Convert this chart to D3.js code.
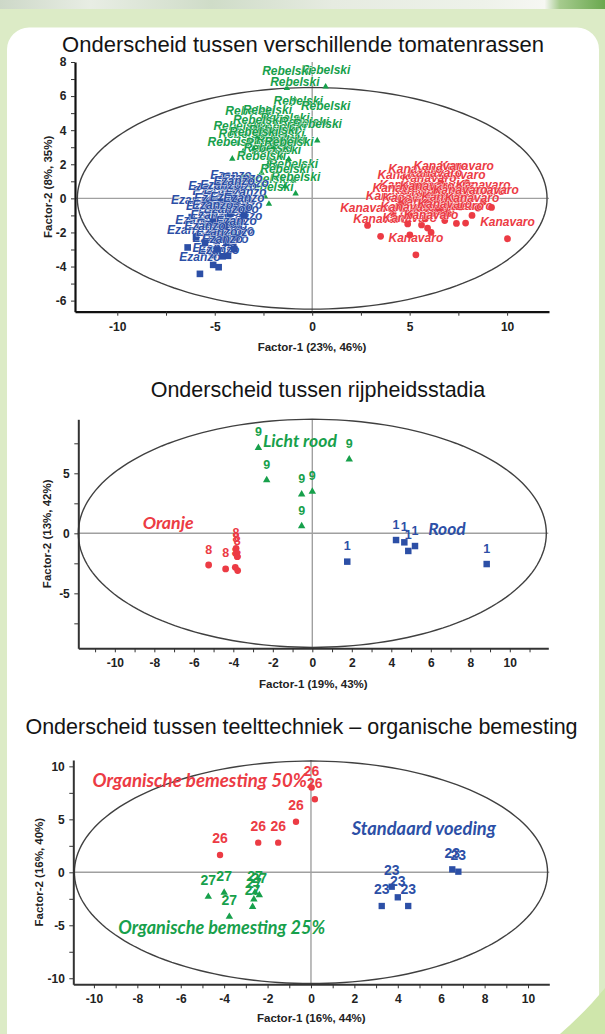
<!DOCTYPE html>
<html><head><meta charset="utf-8">
<script src="https://cdn.jsdelivr.net/npm/d3@7"></script>
<style>body{margin:0;background:#dcebc6;}svg{display:block}</style>
</head><body><svg id="c" width="605" height="1034"></svg>
<script>
// ---------------- DATA ----------------
const titles = [
  "Onderscheid tussen verschillende tomatenrassen",
  "Onderscheid tussen rijpheidsstadia",
  "Onderscheid tussen teelttechniek \u2013 organische bemesting"
];
const xAxisTitles = ["Factor-1 (23%, 46%)", "Factor-1 (19%, 43%)", "Factor-1 (16%, 44%)"];
const yAxisTitles = ["Factor-2 (8%, 35%)", "Factor-2 (13%, 42%)", "Factor-2 (16%, 40%)"];

const chart1XTicks = [-10, -7.5, -5, -2.5, 0, 2.5, 5, 7.5, 10];
const chart1XTickLabels = [-10, -5, 0, 5, 10];
const chart1YTicks = [-6, -5, -4, -3, -2, -1, 0, 1, 2, 3, 4, 5, 6, 7, 8];
const chart1YTickLabels = [-6, -4, -2, 0, 2, 4, 6, 8];

const chart2XTicks = [-11, -10, -9, -8, -7, -6, -5, -4, -3, -2, -1, 0, 1, 2, 3, 4, 5, 6, 7, 8, 9, 10, 11];
const chart2XTickLabels = [-10, -8, -6, -4, -2, 0, 2, 4, 6, 8, 10];
const chart2YTicks = [-7.5, -5, -2.5, 0, 2.5, 5, 7.5];
const chart2YTickLabels = [-5, 0, 5];

const chart3XTicks = [-10, -9, -8, -7, -6, -5, -4, -3, -2, -1, 0, 1, 2, 3, 4, 5, 6, 7, 8, 9, 10];
const chart3XTickLabels = [-10, -8, -6, -4, -2, 0, 2, 4, 6, 8, 10];
const chart3YTicks = [-10, -7.5, -5, -2.5, 0, 2.5, 5, 7.5, 10];
const chart3YTickLabels = [-10, -5, 0, 5, 10];

// chart 1 : varieties
const chart1Categories = ["Rebelski", "Ezanzo", "Kanavaro"];
const rebelskiPoints = [
  [0.69, 6.55], [-1.3, 6.47], [-0.89, 5.8], [-0.72, 4.7], [0.69, 4.41],
  [-3.19, 4.1], [-2.3, 4.2], [-1.4, 3.7], [-0.4, 3.5], [0.26, 3.39],
  [-3.8, 3.24], [-1.57, 3.2], [-3.54, 2.75], [-1.66, 2.75],
  [-4.1, 2.32], [-2.17, 2.26], [-1.6, 2.45], [-1.83, 1.86], [-2.26, 1.98],
  [-0.97, 1.04], [-2.43, 0.12], [-0.85, 0.28], [-2.22, -0.33],
  [-2.8, 3.6], [-2.0, 3.0], [-3.0, 2.9], [-1.2, 2.3], [-2.6, 1.5], [-1.4, 0.7]
];
const ezanzoPoints = [
  [-4.17, 0.39], [-3.28, -0.08], [-6.18, -1.1], [-5.08, -0.59], [-5.42, -1.47],
  [-3.62, -2.06], [-3.62, -1.37], [-6.39, -2.88], [-4.05, -2.84], [-5.08, -3.33],
  [-5.08, -3.9], [-5.76, -4.43], [-4.8, -4.04], [-4.32, -3.37], [-4.0, -2.98],
  [-5.96, -2.27], [-5.0, -1.0], [-4.5, -0.5], [-4.8, -1.8], [-4.3, -1.2],
  [-3.9, -0.3], [-4.6, -2.3], [-5.2, -2.0], [-3.8, -1.6], [-4.4, -2.6],
  [-5.3, -0.3], [-3.6, 0.2], [-4.9, -3.0], [-4.2, -0.9], [-3.4, -0.6],
  [-4.7, -0.2], [-4.1, -1.5], [-4.9, -2.5], [-3.9, -2.3], [-4.5, -1.6],
  [-5.1, -1.4], [-4.0, 0.0], [-3.5, -1.0], [-4.6, -3.4], [-5.5, -2.6]
];
const kanavaroPoints = [
  [5.32, -3.31], [3.51, -2.23], [5.92, -1.74], [7.87, -1.45], [10.02, -2.37],
  [2.84, -1.59], [6.72, -0.96], [8.51, -0.57], [7.92, 0.92], [4.75, 0.39],
  [7.49, 0.39], [4.84, -0.2], [6.89, -0.2], [8.77, -0.2], [9.2, -0.53],
  [4.15, -0.88], [6.2, -0.88], [7.4, -1.47], [5.61, -1.56], [5.01, -2.15],
  [5.5, -0.5], [6.0, 0.2], [5.0, -1.0], [6.5, -0.6], [5.8, -1.2],
  [4.5, -0.4], [7.0, -0.9], [6.3, 0.5], [5.3, 0.7], [6.6, 0.9],
  [5.9, -0.3], [7.6, -0.5], [4.9, -1.5], [6.8, -1.3], [8.2, -1.0], [6.1, -2.0]
];

// chart 2 : ripeness stages
const chart2Categories = ["Licht rood", "Oranje", "Rood"];
const chart2PointLabels = ["9", "8", "1"];
const lichtRoodPoints = [[-2.73, 7.13], [-2.31, 4.44], [-0.54, 3.25], [-0.54, 0.6], [0.0, 3.47], [1.87, 6.17]];
const oranjePoints = [[-5.25, -2.64], [-4.39, -2.97], [-3.86, -1.25], [-3.86, -1.7], [-3.8, -1.95], [-3.9, -2.83], [-3.78, -3.1]];
const roodPoints = [[1.77, -2.36], [4.24, -0.56], [4.66, -0.75], [4.86, -1.47], [5.2, -1.06], [8.83, -2.56]];
const chart2Annotations = [["Licht rood", -2.5, 7.7], ["Oranje", -8.59, 0.88], ["Rood", 5.87, 0.33]];

// chart 3 : cultivation technique
const chart3Categories = ["Organische bemesting 50%", "Organische bemesting 25%", "Standaard voeding"];
const chart3PointLabels = ["26", "27", "23"];
const bemesting50Points = [[-4.19, 1.63], [-2.43, 2.8], [-1.51, 2.8], [-0.69, 4.77], [0.03, 8.0], [0.18, 6.9]];
const bemesting25Points = [[-4.73, -2.3], [-4.0, -1.92], [-3.76, -4.19], [-2.69, -3.25], [-2.63, -2.55], [-2.38, -2.14], [-2.58, -1.9]];
const standaardPoints = [[6.51, 0.28], [6.79, 0.06], [3.72, -1.36], [4.0, -2.36], [3.26, -3.18], [4.48, -3.18]];
const chart3Annotations = [["Organische bemesting 50%", -10.06, 8.7], ["Organische bemesting 25%", -8.88, -5.23], ["Standaard voeding", 1.88, 4.08]];

// ---------------- STYLE / LAYOUT ----------------
const RED = "#ec3b44", GREEN = "#17a04b", BLUE = "#2c4fa6";
const FONT = "'Liberation Sans', Arial, sans-serif";
const ANNFONT = "Lato, 'Open Sans', sans-serif";

const svg = d3.select("#c");
const defs = svg.append("defs");
const tg = defs.append("linearGradient").attr("id", "topg");
[[0, "#cdd8c8"], [0.15, "#e8ede4"], [0.35, "#cfdcc8"], [0.55, "#e6ebe1"], [0.8, "#eef2ea"], [0.9, "#f6f7f3"], [0.925, "#a6cb8e"], [1, "#6aa84f"]]
  .forEach(([o, c]) => tg.append("stop").attr("offset", o).attr("stop-color", c));
svg.append("rect").attr("width", 605).attr("height", 1034).attr("fill", "#dcebc6");
svg.append("rect").attr("width", 605).attr("height", 9).attr("fill", "url(#topg)");
svg.append("rect").attr("x", 7).attr("y", 27.5).attr("width", 592).attr("height", 1100).attr("rx", 22).attr("fill", "#fff");
svg.append("path").attr("d", "M605,988 C592,1004 576,1020 560,1034 L605,1034Z").attr("fill", "#cfe6ab");

const layouts = [
  { title: titles[0], titleSize: 22, titleX: 303, titleY: 52, xr: [75, 549], xd: [-12.17, 12.15], yr: [311.7, 62], yd: [-6.65, 8],
    xTicks: chart1XTicks, xLabels: chart1XTickLabels, yTicks: chart1YTicks, yLabels: chart1YTickLabels,
    ell: [12.05, 6.5], xTitle: xAxisTitles[0], xTitleY: 351, yTitle: yAxisTitles[0], yTitleX: 52,
    axisColor: "#111", axisW: 2.2,
    series: [
      { name: chart1Categories[0], pts: rebelskiPoints, color: GREEN, sym: d3.symbolTriangle, size: 18, label: chart1Categories[0] },
      { name: chart1Categories[1], pts: ezanzoPoints, color: BLUE, sym: d3.symbolSquare, size: 44, label: chart1Categories[1] },
      { name: chart1Categories[2], pts: kanavaroPoints, color: RED, sym: d3.symbolCircle, size: 36, label: chart1Categories[2] }
    ],
    labelFont: "italic bold 12px " + FONT, labelDy: -13, halo: true, ann: [] },
  { title: titles[1], titleSize: 21.5, titleX: 318, titleY: 396.5, xr: [78.3, 548.3], xd: [-11.85, 11.95], yr: [648.3, 419.3], yd: [-9.58, 9.5],
    xTicks: chart2XTicks, xLabels: chart2XTickLabels, yTicks: chart2YTicks, yLabels: chart2YTickLabels,
    ell: [11.85, 9.5], xTitle: xAxisTitles[1], xTitleY: 687.5, yTitle: yAxisTitles[1], yTitleX: 51,
    axisColor: "#333", axisW: 2,
    series: [
      { name: chart2Categories[0], pts: lichtRoodPoints, color: GREEN, sym: d3.symbolTriangle, size: 24, label: chart2PointLabels[0] },
      { name: chart2Categories[1], pts: oranjePoints, color: RED, sym: d3.symbolCircle, size: 36, label: chart2PointLabels[1] },
      { name: chart2Categories[2], pts: roodPoints, color: BLUE, sym: d3.symbolSquare, size: 42, label: chart2PointLabels[2] }
    ],
    labelFont: "bold 12.5px " + FONT, labelDy: -11.5, halo: false,
    ann: chart2Annotations, annColors: [GREEN, RED, BLUE], annWidths: [74, 51, 37.5], annSize: 15 },
  { title: titles[2], titleSize: 21.5, titleX: 301.5, titleY: 734.3, xr: [73.3, 549.3], xd: [-10.95, 10.98], yr: [984.3, 760], yd: [-10.57, 10.6],
    xTicks: chart3XTicks, xLabels: chart3XTickLabels, yTicks: chart3YTicks, yLabels: chart3YTickLabels,
    ell: [10.9, 10.5], xTitle: xAxisTitles[2], xTitleY: 1022, yTitle: yAxisTitles[2], yTitleX: 42.5,
    axisColor: "#333", axisW: 2,
    series: [
      { name: chart3Categories[0], pts: bemesting50Points, color: RED, sym: d3.symbolCircle, size: 32, label: chart3PointLabels[0] },
      { name: chart3Categories[1], pts: bemesting25Points, color: GREEN, sym: d3.symbolTriangle, size: 24, label: chart3PointLabels[1] },
      { name: chart3Categories[2], pts: standaardPoints, color: BLUE, sym: d3.symbolSquare, size: 40, label: chart3PointLabels[2] }
    ],
    labelFont: "bold 14px " + FONT, labelDy: -11.7, halo: false,
    ann: chart3Annotations, annColors: [RED, GREEN, BLUE], annWidths: [214.6, 207, 144.3], annSize: 16 }
];

function drawChart(L) {
  const x = d3.scaleLinear().domain(L.xd).range(L.xr);
  const y = d3.scaleLinear().domain(L.yd).range(L.yr);
  const g = svg.append("g");

  g.append("text").attr("x", L.titleX).attr("y", L.titleY).attr("text-anchor", "middle")
    .style("font", L.titleSize + "px " + FONT).attr("fill", "#141414").text(L.title);

  // zero lines
  g.append("line").attr("x1", L.xr[0]).attr("x2", L.xr[1]).attr("y1", y(0)).attr("y2", y(0))
    .attr("stroke", "#a0a0a0").attr("stroke-width", 1.4);
  g.append("line").attr("x1", x(0)).attr("x2", x(0)).attr("y1", L.yr[0]).attr("y2", L.yr[1])
    .attr("stroke", "#a0a0a0").attr("stroke-width", 1.4);

  // confidence ellipse
  const ang = d3.range(0, 361, 2).map(a => a * Math.PI / 180);
  g.append("path")
    .attr("d", d3.line().x(a => x(L.ell[0] * Math.cos(a))).y(a => y(L.ell[1] * Math.sin(a)))(ang))
    .attr("fill", "none").attr("stroke", "#404040").attr("stroke-width", 1.4);

  // axes
  const fmt = labels => v => labels.includes(v) ? String(v) : "";
  const xa = g.append("g").attr("transform", `translate(0,${L.yr[0]})`)
    .call(d3.axisBottom(x).tickValues(L.xTicks).tickFormat(fmt(L.xLabels)).tickSize(4).tickSizeOuter(0).tickPadding(6.5));
  const ya = g.append("g").attr("transform", `translate(${L.xr[0]},0)`)
    .call(d3.axisLeft(y).tickValues(L.yTicks).tickFormat(fmt(L.yLabels)).tickSize(4).tickSizeOuter(0).tickPadding(4.5));
  [xa, ya].forEach(a => {
    a.select(".domain").attr("stroke", L.axisColor).attr("stroke-width", L.axisW);
    a.selectAll(".tick line").attr("stroke", "#333").attr("stroke-width", 1);
    a.selectAll("text").style("font", "bold 12px " + FONT).attr("fill", "#222");
  });

  g.append("text").attr("x", (L.xr[0] + L.xr[1]) / 2).attr("y", L.xTitleY).attr("text-anchor", "middle")
    .style("font", "bold 11.5px " + FONT).attr("fill", "#222").text(L.xTitle);
  g.append("text").attr("transform", `translate(${L.yTitleX},${(L.yr[0] + L.yr[1]) / 2}) rotate(-90)`)
    .attr("text-anchor", "middle").style("font", "bold 11.5px " + FONT).attr("fill", "#222").text(L.yTitle);

  // points + labels
  L.series.forEach(s => {
    const sym = d3.symbol().type(s.sym).size(s.size)();
    s.pts.forEach(p => {
      const px = x(p[0]), py = y(p[1]);
      g.append("path").attr("d", sym).attr("transform", `translate(${px},${py})`).attr("fill", s.color);
      const t = g.append("text").attr("x", px).attr("y", py + L.labelDy).attr("text-anchor", "middle")
        .style("font", L.labelFont).attr("fill", s.color).text(s.label);
      if (L.halo) t.attr("stroke", "#fff").attr("stroke-width", 0.9).attr("stroke-opacity", 0.7).style("paint-order", "stroke");
    });
  });

  // group annotations
  L.ann.forEach((a, i) => {
    const t = g.append("text").attr("x", x(a[1])).attr("y", y(a[2])).attr("dy", "0.35em")
      .style("font-family", ANNFONT).style("font-weight", "bold").style("font-style", "italic")
      .style("font-size", L.annSize + "px").attr("fill", L.annColors[i]).text(a[0]);
    const w = t.node().getComputedTextLength();
    if (w > 0) t.style("font-size", (L.annSize * L.annWidths[i] / w).toFixed(2) + "px");
  });
}

layouts.forEach(drawChart);
</script></body></html>
